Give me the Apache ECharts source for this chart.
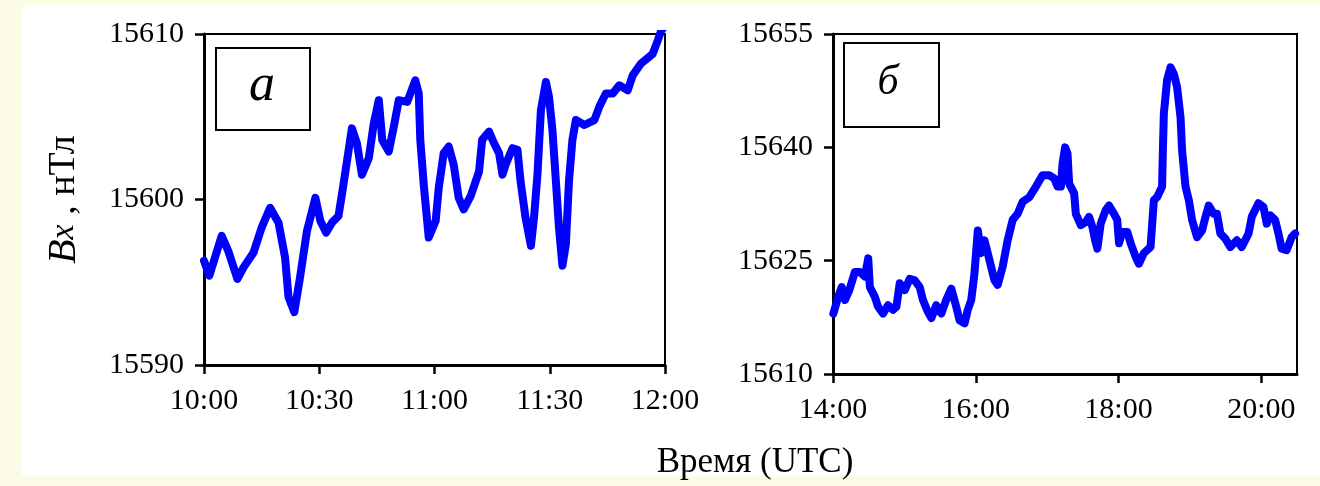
<!DOCTYPE html>
<html>
<head>
<meta charset="utf-8">
<script src="https://cdn.jsdelivr.net/npm/echarts@6.0.0/dist/echarts.min.js"></script>
<style>
html,body{margin:0;padding:0;background:#fcfce6}
#main{width:1320px;height:486px}
</style>
</head>
<body>
<div id="main"></div>
<script>
// время в минутах от начала суток, значения Bx в нТл
var timeA = [600, 601.4, 604.6, 606.3, 608.7, 610.3, 612.9, 615, 617.2, 619.4, 621.1, 622, 623.5, 625, 626.8,
  629, 630.3, 631.8, 633.3, 635, 636.3, 638.5, 639.8, 641.1, 642.9, 644.2, 645.5, 646.4, 648.1, 649.4,
  650.7, 652.9, 655, 655.9, 656.3, 657.2, 658.5, 659, 660.3, 661.1, 662.4, 663.7, 665, 666.3, 667.6,
  669.4, 671.6, 672.4, 674.2, 675.5, 676.8, 677.7, 678.5, 680.3, 681.6, 682.4, 683.7, 685.1, 685.9,
  686.8, 687.7, 689, 689.8, 690.7, 691.6, 692.4, 693.3, 694.2, 695, 695.9, 696.8, 699, 701.6, 702.9,
  704.6, 706.4, 708.1, 710.3, 711.6, 713.7, 716.8, 718.1, 719, 720];
var valA = [15596.3, 15595.4, 15597.8, 15596.9, 15595.2, 15595.9, 15596.8, 15598.3, 15599.5, 15598.6, 15596.5, 15594.1, 15593.2, 15595.3, 15598.1,
  15600.1, 15598.7, 15598.0, 15598.6, 15599.0, 15600.9, 15604.3, 15603.4, 15601.5, 15602.5, 15604.6, 15606.0, 15603.6, 15602.9, 15604.4,
  15606.0, 15605.9, 15607.2, 15606.4, 15603.6, 15600.9, 15597.7, 15597.7, 15598.7, 15600.7, 15602.8, 15603.2, 15602.1, 15600.1, 15599.4,
  15600.2, 15601.7, 15603.6, 15604.1, 15603.4, 15602.8, 15601.5, 15602.1, 15603.1, 15603.0, 15601.1, 15598.9, 15597.2, 15598.9,
  15601.5, 15605.4, 15607.1, 15606.2, 15604.2, 15601.1, 15598.3, 15596.0, 15597.3, 15601.1, 15603.6, 15604.8, 15604.5, 15604.8, 15605.6,
  15606.4, 15606.4, 15606.9, 15606.6, 15607.5, 15608.2, 15608.8, 15609.6, 15610.2, 15610.5];

var timeB = [840.3, 844.4, 847.3, 850.1, 853.7, 858.4, 862.6, 866.8, 869.6, 871, 875.2, 877.9, 882.1, 886.3, 890.5,
  893.3, 896.1, 900.3, 904.5, 908.7, 912.9, 915.6, 919.8, 922.7, 926.8, 931, 935.2, 939.4, 943.6, 946.4,
  950.6, 953.3, 956.2, 958.9, 961.7, 964.5, 967.3, 971.5, 975.7, 978.4, 982.6, 986.8, 991, 995.2, 999.4,
  1005, 1010.6, 1016.1, 1021.7, 1025.9, 1028.7, 1031.5, 1032.9, 1035.1, 1037.1, 1038.5, 1042.7, 1044.1, 1048.3,
  1052.5, 1055.2, 1058, 1060.3, 1062.2, 1065, 1069.2, 1072, 1076.2, 1078.9, 1080.4, 1083.1, 1087.3, 1090.2,
  1094.4, 1097.1, 1101.3, 1106.9, 1109.7, 1112.4, 1116.6, 1117.2, 1118.1, 1120.8, 1123.7, 1126.5, 1129.2, 1132.1,
  1133.4, 1136.3, 1139.1, 1141.8, 1146, 1150.2, 1153.1, 1155.8, 1160, 1162.7, 1165.6, 1169.8, 1174, 1179.5,
  1183.6, 1189.3, 1192, 1197.6, 1201.8, 1204.6, 1207.4, 1211.6, 1214.4, 1217.1, 1221.3, 1225.5, 1228.4];
var valB = [15618.0, 15620.2, 15621.5, 15619.8, 15621.1, 15623.5, 15623.5, 15622.9, 15625.3, 15621.5, 15620.2, 15618.9, 15618.0, 15619.1, 15618.5,
  15618.9, 15622.0, 15621.1, 15622.6, 15622.4, 15621.5, 15619.8, 15618.2, 15617.4, 15619.1, 15618.0, 15619.8, 15621.3, 15618.9, 15617.1,
  15616.7, 15618.5, 15619.8, 15623.3, 15629.0, 15626.0, 15627.7, 15625.1, 15622.4, 15621.8, 15624.2, 15627.7, 15630.4, 15631.2, 15632.8,
  15633.4, 15634.8, 15636.3, 15636.3, 15635.9, 15634.8, 15634.8, 15637.8, 15640.0, 15639.2, 15635.2, 15633.9, 15631.2, 15629.7,
  15630.1, 15630.8, 15629.5, 15627.7, 15626.6, 15629.9, 15631.7, 15632.3, 15631.2, 15630.4, 15627.3, 15628.8, 15628.8, 15627.3,
  15625.5, 15624.6, 15626.0, 15626.8, 15633.0, 15633.4, 15634.8, 15639.2, 15644.5, 15648.9, 15650.6, 15649.7, 15648.0, 15644.0,
  15639.6, 15634.8, 15633.0, 15630.4, 15628.1, 15629.0, 15630.8, 15632.3, 15631.2, 15631.2, 15628.6, 15627.9, 15626.8, 15627.7,
  15626.8, 15628.6, 15630.8, 15632.6, 15632.1, 15629.9, 15631.0, 15630.4, 15628.6, 15626.6, 15626.4, 15628.1, 15628.6];

// подписи осей
var ticksXA = [600, 630, 660, 690, 720];
var ticksXB = [840, 960, 1080, 1200];
var ticksYA = [15590, 15600, 15610];
var ticksYB = [15610, 15625, 15640, 15655];

var serif = '"Liberation Serif", "Times New Roman", serif';

function hhmm(v) {
    var h = Math.floor(v / 60), m = Math.round(v % 60);
    return h + ':' + (m < 10 ? '0' : '') + m;
}
function pairs(t, v) {
    return t.map(function (x, i) { return [x, v[i]]; });
}

var axisLine = {lineStyle: {color: '#000', width: 3}};
var tickStyle = {color: '#000', width: 2.5};

function xAx(idx, min, max, ticks) {
    return {
        type: 'value', gridIndex: idx, min: min, max: max,
        axisLine: axisLine, splitLine: {show: false},
        axisTick: {length: 9, lineStyle: tickStyle, customValues: ticks},
        axisLabel: {color: '#000', fontFamily: serif, fontSize: 30, margin: 21, customValues: ticks, formatter: hhmm}
    };
}
function yAx(idx, min, max, ticks) {
    return {
        type: 'value', gridIndex: idx, min: min, max: max,
        axisLine: axisLine, splitLine: {show: false},
        axisTick: {length: 9, lineStyle: tickStyle, customValues: ticks},
        axisLabel: {color: '#000', fontFamily: serif, fontSize: 30, margin: 20, customValues: ticks,
            formatter: function (v) { return String(v); }}
    };
}

var myChart = echarts.init(document.getElementById('main'));
var yA = yAx(0, 15590, 15610, ticksYA);
yA.name = '{i|B}{s|x}{n| , нТл}';
yA.nameLocation = 'middle';
yA.nameRotate = 90;
yA.nameGap = 120;
yA.nameTextStyle = {
    color: '#000',
    rich: {
        i: {fontFamily: serif, fontStyle: 'italic', fontSize: 40, color: '#000'},
        s: {fontFamily: serif, fontStyle: 'italic', fontSize: 34, color: '#000'},
        n: {fontFamily: serif, fontSize: 38, color: '#000'}
    }
};

var option = {
    animation: false,
    backgroundColor: '#fcfce6',
    grid: [
        {left: 204, top: 34, width: 461, height: 331, show: true, borderColor: '#000', borderWidth: 2, backgroundColor: 'transparent'},
        {left: 833, top: 34, width: 464, height: 340, show: true, borderColor: '#000', borderWidth: 2, backgroundColor: 'transparent'}
    ],
    xAxis: [xAx(0, 600, 720, ticksXA), xAx(1, 840, 1230, ticksXB)],
    yAxis: [yA, yAx(1, 15610, 15655, ticksYB)],
    series: [
        {type: 'line', xAxisIndex: 0, yAxisIndex: 0, data: pairs(timeA, valA), showSymbol: false,
            lineStyle: {color: '#0000ff', width: 8, join: 'round', cap: 'round'}},
        {type: 'line', xAxisIndex: 1, yAxisIndex: 1, data: pairs(timeB, valB), showSymbol: false,
            lineStyle: {color: '#0000ff', width: 8, join: 'round', cap: 'round'}}
    ],
    graphic: [
        {type: 'rect', z: -10, shape: {x: 22, y: 5, width: 1298, height: 471}, style: {fill: '#fff'}},
        {type: 'rect', z: 50, shape: {x: 216, y: 48, width: 94, height: 82}, style: {fill: '#fff', stroke: '#000', lineWidth: 2}},
        {type: 'text', z: 51, x: 262, y: 86, style: {text: 'а', font: 'italic 52px ' + serif, fill: '#000', align: 'center', verticalAlign: 'middle'}},
        {type: 'rect', z: 50, shape: {x: 844, y: 43, width: 95, height: 84}, style: {fill: '#fff', stroke: '#000', lineWidth: 2}},
        {type: 'text', z: 51, x: 888, y: 83, style: {text: 'б', font: 'italic 42px ' + serif, fill: '#000', align: 'center', verticalAlign: 'middle'}},
        {type: 'text', z: 51, x: 755, y: 463, style: {text: 'Время (UTC)', font: '35px ' + serif, fill: '#000', align: 'center', verticalAlign: 'middle'}}
    ]
};
myChart.setOption(option);
</script>
</body>
</html>
